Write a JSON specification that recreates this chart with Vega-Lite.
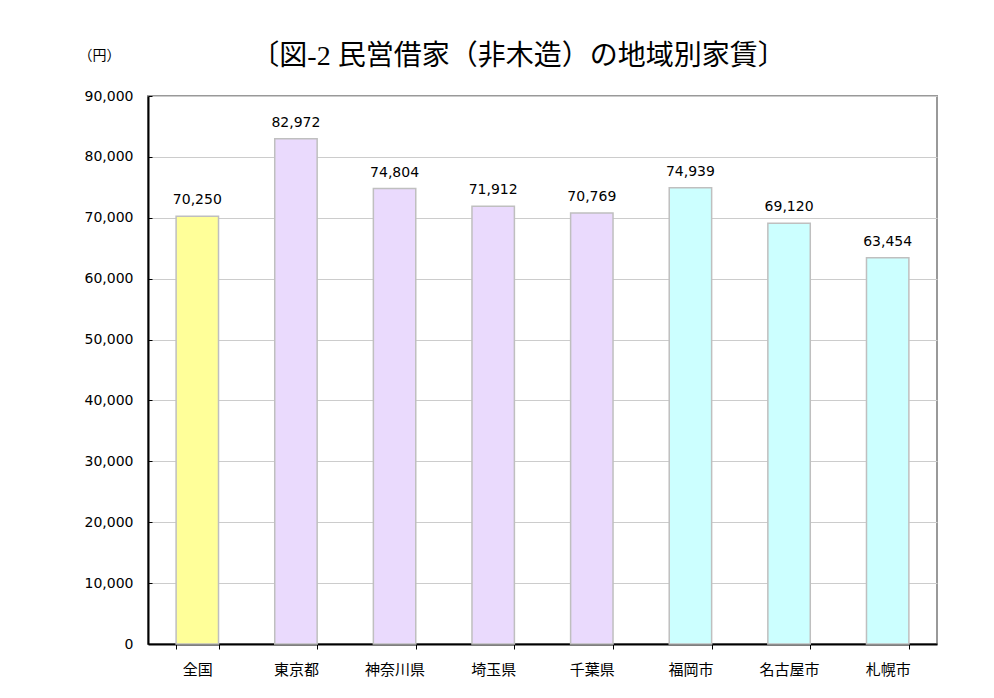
{
  "$schema": "https://vega.github.io/schema/vega-lite/v6.json",
  "width": 789,
  "height": 548,
  "autosize": {"type": "none"},
  "padding": {"left": 148, "top": 96, "right": 57, "bottom": 54},
  "background": "white",
  "title": {
    "text": "〔図-2 民営借家（非木造）の地域別家賃〕",
    "font": "Liberation Serif, Noto Sans CJK JP",
    "fontSize": 28,
    "fontWeight": "normal",
    "color": "#000000",
    "anchor": "middle",
    "frame": "group",
    "baseline": "middle",
    "offset": 0,
    "dx": -24,
    "dy": 37
  },
  "config": {
    "view": {"stroke": "#999999", "strokeWidth": 2},
    "axis": {"labelColor": "#000000", "titleColor": "#000000"}
  },
  "data": {
    "values": [
      {"region": "全国", "rent": 70250, "group": "national"},
      {"region": "東京都", "rent": 82972, "group": "pref"},
      {"region": "神奈川県", "rent": 74804, "group": "pref"},
      {"region": "埼玉県", "rent": 71912, "group": "pref"},
      {"region": "千葉県", "rent": 70769, "group": "pref"},
      {"region": "福岡市", "rent": 74939, "group": "city"},
      {"region": "名古屋市", "rent": 69120, "group": "city"},
      {"region": "札幌市", "rent": 63454, "group": "city"}
    ]
  },
  "encoding": {
    "x": {
      "field": "region",
      "type": "nominal",
      "sort": null,
      "scale": {"paddingInner": 0.57, "paddingOuter": 0.285},
      "axis": {
        "title": null,
        "labelAngle": 0,
        "labelFont": "Noto Sans CJK JP",
        "labelFontSize": 15,
        "labelBaseline": "top",
        "labelPadding": 13,
        "tickBand": "extent",
        "tickSize": 5,
        "tickColor": "#000000",
        "domainColor": "#000000",
        "domainWidth": 2,
        "grid": false
      }
    },
    "y": {
      "field": "rent",
      "type": "quantitative",
      "scale": {"domain": [0, 90000], "nice": false},
      "axis": {
        "values": [0, 10000, 20000, 30000, 40000, 50000, 60000, 70000, 80000, 90000],
        "format": ",.0f",
        "title": "（円）",
        "titleAngle": 0,
        "titleX": -49,
        "titleY": -41,
        "titleAlign": "center",
        "titleBaseline": "middle",
        "titleFont": "Noto Sans CJK JP",
        "titleFontSize": 14,
        "titleFontWeight": "normal",
        "labelFont": "DejaVu Sans",
        "labelFontSize": 14,
        "labelPadding": 19,
        "tickSize": -4,
        "tickColor": "#000000",
        "domainColor": "#000000",
        "domainWidth": 2,
        "gridColor": "#CCCCCC",
        "gridWidth": 1
      }
    }
  },
  "layer": [
    {
      "mark": {"type": "bar", "stroke": "#BFBFBF", "strokeWidth": 1.5},
      "encoding": {
        "color": {
          "field": "group",
          "type": "nominal",
          "scale": {"domain": ["national", "pref", "city"], "range": ["#FFFF99", "#EADAFD", "#CCFFFF"]},
          "legend": null
        }
      }
    },
    {
      "mark": {"type": "text", "font": "DejaVu Sans", "fontSize": 14, "color": "#000000", "baseline": "alphabetic", "dy": -12},
      "encoding": {
        "text": {"field": "rent", "type": "quantitative", "format": ","}
      }
    }
  ]
}
